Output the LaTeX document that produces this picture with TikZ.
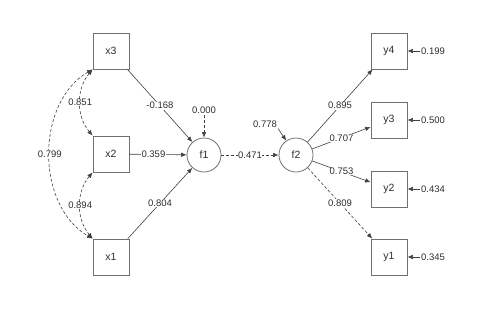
\documentclass[tikz,border=0pt]{standalone}
\usepackage{fontspec}
\setmainfont{Liberation Sans}
\usetikzlibrary{arrows.meta}
\definecolor{edgecol}{HTML}{404040}
\definecolor{boxcol}{HTML}{707070}
\definecolor{txtcol}{HTML}{2E2E2E}
\begin{document}
\begin{tikzpicture}[x=1pt,y=-1pt,
  manifest/.style={draw=boxcol,line width=0.8pt,minimum size=36pt,inner sep=0pt,font=\fontsize{10.5}{12}\selectfont,text=txtcol},
  latent/.style={circle,draw=boxcol,line width=0.8pt,minimum size=34pt,inner sep=0pt,font=\fontsize{10.5}{12}\selectfont,text=txtcol},
  lab/.style={fill=white,inner sep=0.5pt,font=\fontsize{9.5}{11}\selectfont,text=txtcol},
  reslab/.style={inner sep=1pt,font=\fontsize{9.5}{11}\selectfont,text=txtcol},
  path/.style={draw=edgecol,line width=0.6pt,-{Latex[length=5.5pt,width=4.5pt]}},
  dpath/.style={path,dash pattern=on 3pt off 2pt},
  cov/.style={draw=edgecol,line width=0.6pt,dash pattern=on 3pt off 2pt,{Latex[length=5.5pt,width=4.5pt]}-{Latex[length=5.5pt,width=4.5pt]}}
]
\useasboundingbox (0,0) rectangle (500,309);
% manifest nodes
\node[manifest] (x3) at (111,51) {x3};
\node[manifest] (x2) at (111,154) {x2};
\node[manifest] (x1) at (111,257) {x1};
\node[manifest] (y4) at (389,51) {y4};
\node[manifest] (y3) at (389,120) {y3};
\node[manifest] (y2) at (389,189) {y2};
\node[manifest] (y1) at (389,257) {y1};
% latent
\node[latent] (f1) at (204,155) {f1};
\node[latent] (f2) at (296,155) {f2};
% residual labels
\node[reslab] (r0) at (204,110) {0.000};
\node[reslab] (r5) at (265,124) {0.778};
\node[reslab] (r4) at (433,51) {0.199};
\node[reslab] (r3) at (433,120) {0.500};
\node[reslab] (r2) at (433,189) {0.434};
\node[reslab] (r1) at (433,257) {0.345};
% structural paths
\draw[path] (x3) -- node[lab]{-0.168} (f1);
\draw[path] (x2) -- node[lab,pos=0.42]{0.359} (f1);
\draw[path] (x1) -- node[lab]{0.804} (f1);
\draw[dpath] (f1) -- node[lab]{0.471} (f2);
\draw[path] (f2) -- node[lab]{0.895} (y4);
\draw[path] (f2) -- node[lab]{0.707} (y3);
\draw[path] (f2) -- node[lab]{0.753} (y2);
\draw[dpath] (f2) -- node[lab]{0.809} (y1);
% residuals
\draw[dpath] (r0) -- (f1);
\draw[path] (r5.south east) -- (f2);
\draw[path] (r4) -- (y4);
\draw[path] (r3) -- (y3);
\draw[path] (r2) -- (y2);
\draw[path] (r1) -- (y1);
% covariances
\draw[cov] (x3.south west) to[bend right=40] node[lab]{0.851} (x2.north west);
\draw[cov] (x2.south west) to[bend right=40] node[lab]{0.894} (x1.north west);
\draw[cov] (x3.south west) to[bend right=60] node[lab]{0.799} (x1.north west);
\end{tikzpicture}
\end{document}
